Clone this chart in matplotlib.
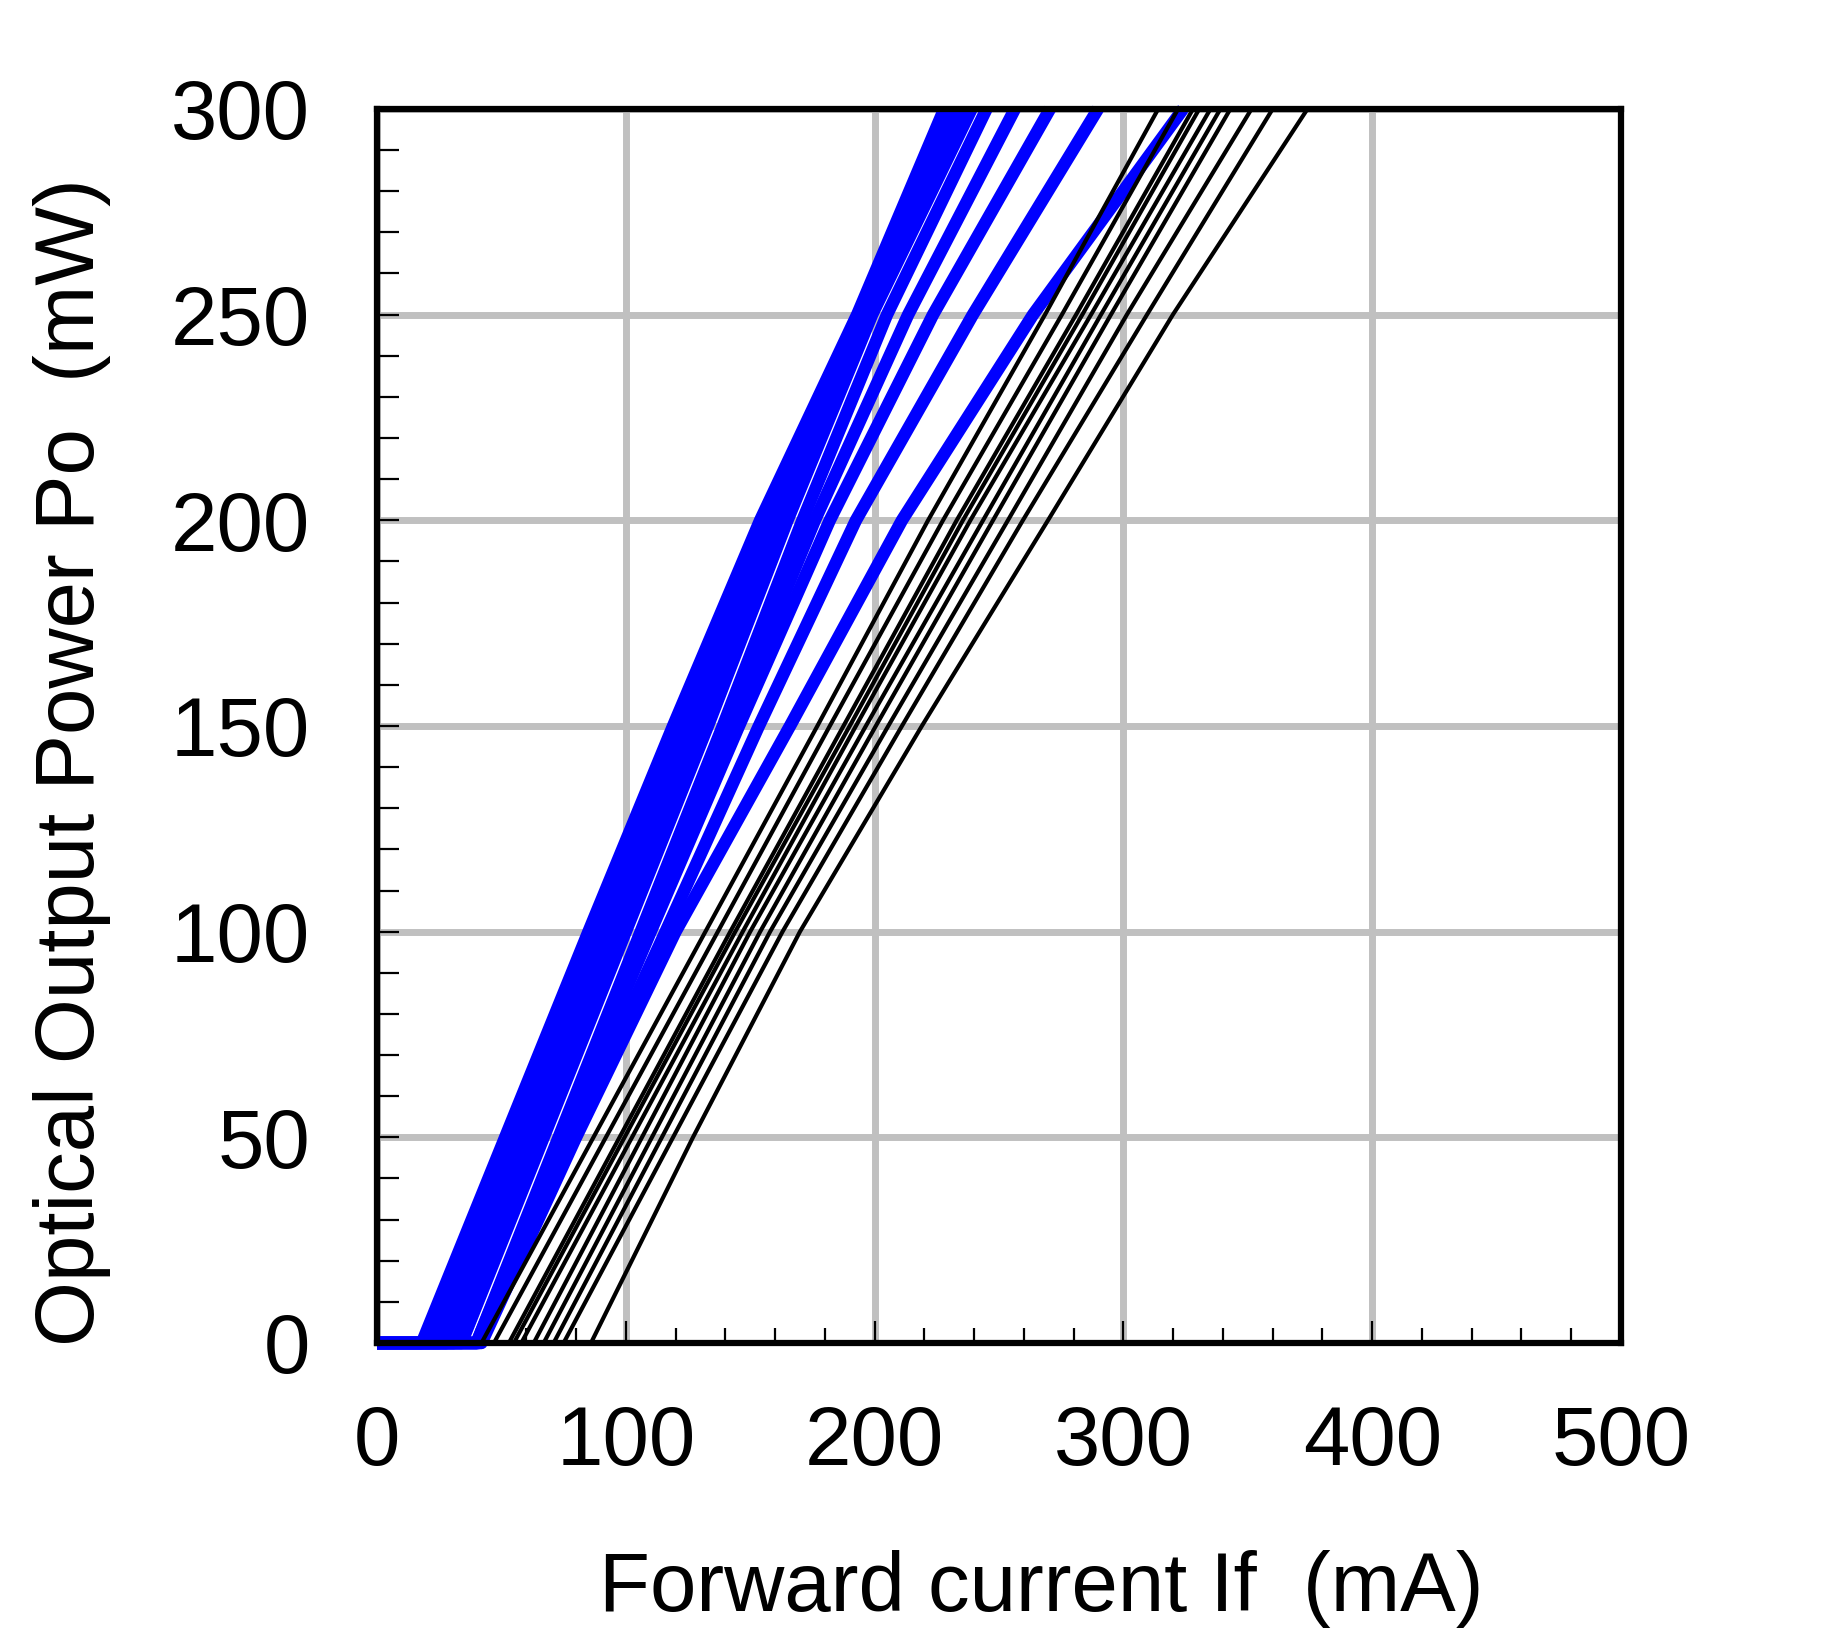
import matplotlib
matplotlib.use('Agg')
import matplotlib.pyplot as plt
from matplotlib.ticker import MultipleLocator

plt.rcParams['font.family'] = ['Liberation Sans', 'DejaVu Sans']

# Optical output power levels (mW) at which currents were read
power_levels = [0, 0, 50, 100, 150, 200, 250, 300]

# Blue curves: forward current (mA) at [start, threshold, 50, 100, 150, 200, 250, 300 mW]
blue_1 = [0, 18, 51.5, 85, 119, 154, 193, 228]
blue_2 = [0, 21, 54, 87, 121, 156, 194.5, 230]
blue_3 = [0, 25, 57.5, 90, 123.5, 158, 196, 232.5]
blue_4 = [0, 28, 60, 92, 125.5, 160, 197, 234.5]
blue_5 = [0, 31, 63, 95, 128.5, 162.5, 198, 236.5]
blue_6 = [0, 34, 67, 100, 133, 165, 199, 239]
blue_7 = [0, 40, 73, 106, 139, 171, 205, 245]
blue_8 = [0, 40, 74, 108.5, 142, 176, 213.5, 256.4]
blue_9 = [0, 40.5, 75, 110, 145.5, 182, 223.5, 270.5]
blue_10 = [0, 41, 78, 116, 153.5, 192.5, 239.5, 289.8]
blue_11 = [0, 42, 80, 120, 166, 211, 263.7, 324]
blue_curves = [blue_1, blue_2, blue_3, blue_4, blue_5, blue_6,
               blue_7, blue_8, blue_9, blue_10, blue_11]

# Black curves: forward current (mA) at [start, threshold, 50, 100, 150, 200, 250, 300 mW]
black_1 = [0, 42, 87, 132, 177, 221.5, 268.5, 314]
black_2 = [0, 47, 92, 137, 182, 227.5, 275.3, 322]
black_3 = [0, 53, 97.5, 142, 187.5, 233, 281, 328]
black_4 = [0, 55, 99.5, 144, 190, 235.5, 283.5, 330.5]
black_5 = [0, 58, 102.5, 147, 192.5, 238.5, 287, 335]
black_6 = [0, 63, 106.5, 150, 196.5, 243.6, 291, 339]
black_7 = [0, 67, 110.5, 154, 200.5, 247.6, 295, 343]
black_8 = [0, 71, 114.5, 158, 205.5, 253.6, 301.4, 351.5]
black_9 = [0, 75, 119, 163, 211, 259.6, 309.5, 360]
black_10 = [0, 86, 127, 170, 219, 269.7, 319.9, 374]
black_curves = [black_1, black_2, black_3, black_4, black_5,
                black_6, black_7, black_8, black_9, black_10]

x_ticks = [0, 100, 200, 300, 400, 500]
y_ticks = [0, 50, 100, 150, 200, 250, 300]

fig = plt.figure(figsize=(18.31, 16.43), dpi=100)
ax = fig.add_axes([0.2059, 0.1826, 0.6794, 0.7511])

for cur in blue_curves:
    ax.plot(cur, power_levels, color='#0000ff', lw=9, solid_capstyle='butt',
            solid_joinstyle='round', clip_on=False, zorder=2)
for cur in black_curves:
    ax.plot(cur, power_levels, color='black', lw=3.0, solid_capstyle='butt',
            solid_joinstyle='round', clip_on=False, zorder=2.1)

ax.set_xlim(0, 500)
ax.set_ylim(0, 300)
ax.set_xticks(x_ticks)
ax.set_yticks(y_ticks)
ax.xaxis.set_minor_locator(MultipleLocator(20))
ax.yaxis.set_minor_locator(MultipleLocator(10))

ax.grid(which='major', color='#c0c0c0', linewidth=5)
ax.set_axisbelow(True)

for s in ax.spines.values():
    s.set_linewidth(4.5)
    s.set_zorder(3)

ax.tick_params(which='both', direction='in', top=False, right=False,
               width=1.6, labelsize=60, colors='black')
ax.tick_params(axis='x', which='both', pad=44)
ax.tick_params(axis='y', which='both', pad=48)
ax.tick_params(axis='x', which='major', length=16)
ax.tick_params(axis='x', which='minor', length=11)
ax.tick_params(axis='y', which='major', length=16)
ax.tick_params(axis='y', which='minor', length=16)

ax.set_xlabel('Forward current If  (mA)', fontsize=60)
ax.set_ylabel('Optical Output Power Po  (mW)', fontsize=60)
ax.xaxis.label.set_va('center')
ax.yaxis.label.set_va('center')
ax.xaxis.set_label_coords(0.534, -0.199)
ax.yaxis.set_label_coords(-0.245, 0.471)

fig.savefig('out.png', dpi=100)
